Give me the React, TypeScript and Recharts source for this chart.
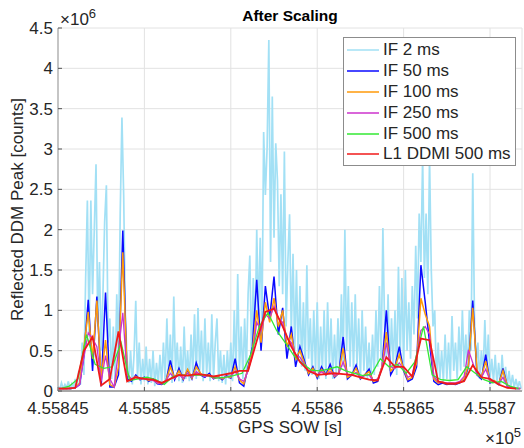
import React from 'react';
import { LineChart, Line, XAxis, YAxis, CartesianGrid, Legend } from 'recharts';

// GPS SOW of the first sample; all values below are in units of 1e6 counts
const T0 = 455845;

// IF 2 ms, one value every 0.1 s
const if2 = [
  0.06, 0.02, 0.1, 0.03, 0.08, 0.04, 0.12, 0.02, 0.09, 0.05,
  0.15, 0.05, 0.25, 0.08, 0.6, 0.2, 1.4, 2.36, 0.7, 2.36,
  1.2, 2.0, 2.81, 0.8, 1.6, 0.5, 1.2, 2.1, 2.55, 0.6,
  0.9, 0.15, 0.8, 0.1, 1.2, 0.4, 2.2, 3.39, 2.43, 0.9,
  0.4, 0.1, 0.5, 0.08, 0.45, 1.12, 0.15, 0.6, 0.08, 0.4,
  0.12, 0.55, 0.08, 0.4, 0.1, 0.5, 0.06, 0.35, 0.1, 0.45,
  0.08, 0.6, 0.12, 0.9, 0.2, 0.7, 0.1, 1.17, 0.25, 0.6,
  0.12, 0.55, 0.1, 0.8, 0.15, 0.5, 0.12, 0.7, 0.2, 0.95,
  0.15, 1.03, 0.25, 0.75, 0.12, 0.9, 0.2, 0.6, 0.12, 0.95,
  0.15, 0.6, 0.9, 0.12, 0.5, 0.1, 0.45, 0.08, 0.5, 0.15,
  0.6, 0.12, 1.0, 0.2, 1.45, 0.25, 0.8, 0.15, 0.9, 0.25,
  1.2, 1.68, 0.4, 1.4, 0.6, 2.0, 0.9, 1.9, 0.7, 3.21,
  2.43, 3.01, 4.35, 1.6, 3.65, 1.9, 3.07, 2.61, 1.3, 2.44,
  1.2, 2.97, 0.8, 1.6, 2.19, 0.7, 1.7, 0.5, 1.5, 0.4,
  1.3, 0.3, 1.1, 0.25, 1.56, 0.4, 0.9, 0.2, 1.0, 0.25,
  1.1, 0.15, 0.8, 0.25, 1.0, 0.15, 1.1, 0.3, 0.9, 0.15,
  0.7, 0.2, 0.9, 0.25, 1.2, 0.3, 2.0, 0.5, 1.3, 0.3,
  1.1, 0.25, 1.2, 0.3, 0.9, 0.15, 1.0, 0.25, 0.8, 0.15,
  0.6, 0.12, 0.7, 0.2, 1.0, 0.3, 1.3, 0.4, 2.02, 0.8,
  0.4, 1.2, 0.25, 0.9, 0.3, 1.0, 0.2, 1.54, 0.4, 1.4,
  0.3, 1.5, 0.5, 1.1, 0.4, 1.3, 0.7, 1.8, 0.9, 2.2,
  1.6, 2.9, 1.4, 2.2, 1.2, 2.9, 1.5, 0.8, 1.0, 0.1,
  0.6, 0.15, 0.5, 0.12, 0.7, 0.15, 0.6, 0.12, 0.93, 0.25,
  0.6, 0.15, 0.8, 0.25, 1.0, 0.3, 0.7, 0.2, 1.0, 0.5,
  2.7, 0.9, 0.3, 0.6, 0.15, 0.5, 0.2, 0.88, 0.25, 0.7,
  0.15, 0.4, 0.12, 0.45, 0.08, 0.35, 0.08, 0.45, 0.1, 0.3,
  0.06, 0.25, 0.05, 0.2, 0.04, 0.15, 0.04, 0.12, 0.03,
];

// IF 50 / 100 / 250 ms, one value every 0.25 s
const if50 = [
  0.03, 0.03, 0.03, 0.03, 0.04, 0.08, 0.45, 1.13, 0.25, 1.17,
  0.06, 1.22, 0.05, 0.05, 0.2, 1.99, 0.15, 0.12, 0.2, 0.14,
  0.17, 0.12, 0.15, 0.09, 0.08, 0.12, 0.38, 0.14, 0.28, 0.14,
  0.26, 0.15, 0.35, 0.2, 0.17, 0.22, 0.15, 0.18, 0.14, 0.19,
  0.16, 0.4, 0.1, 0.06, 0.3, 0.55, 1.38, 0.5, 1.3, 0.9,
  1.42, 0.7, 1.03, 0.4, 0.8, 0.3, 0.55, 0.38, 0.2, 0.3,
  0.16, 0.3, 0.2, 0.33, 0.17, 0.22, 0.67, 0.15, 0.2, 0.32,
  0.15, 0.2, 0.27, 0.1, 0.12, 0.3, 1.0, 0.2, 0.3, 0.55,
  0.25, 0.12, 0.15, 0.3, 1.56, 1.1, 0.6, 0.12, 0.08, 0.1,
  0.08, 0.09, 0.08, 0.1, 0.14, 0.3, 1.12, 0.2, 0.15, 0.45,
  0.1, 0.12, 0.08, 0.28, 0.06, 0.04, 0.03, 0.03,
];

const if100 = [
  0.03, 0.03, 0.03, 0.03, 0.04, 0.1, 0.55, 0.98, 0.4, 1.12,
  0.15, 0.63, 0.08, 0.05, 0.3, 1.72, 0.22, 0.14, 0.18, 0.15,
  0.16, 0.13, 0.14, 0.1, 0.09, 0.13, 0.3, 0.16, 0.25, 0.15,
  0.27, 0.16, 0.3, 0.22, 0.18, 0.2, 0.16, 0.18, 0.15, 0.18,
  0.17, 0.3, 0.14, 0.09, 0.28, 0.5, 1.0, 0.6, 1.1, 0.85,
  1.15, 0.8, 1.0, 0.55, 0.7, 0.4, 0.5, 0.35, 0.22, 0.28,
  0.18, 0.27, 0.2, 0.28, 0.18, 0.22, 0.53, 0.17, 0.2, 0.28,
  0.16, 0.2, 0.24, 0.12, 0.14, 0.3, 0.73, 0.25, 0.3, 0.45,
  0.27, 0.14, 0.17, 0.35, 1.15, 0.95, 0.8, 0.15, 0.1, 0.11,
  0.09, 0.1, 0.09, 0.11, 0.15, 0.32, 1.03, 0.25, 0.17, 0.37,
  0.12, 0.13, 0.09, 0.25, 0.07, 0.04, 0.03, 0.03,
];

const if250 = [
  0.03, 0.03, 0.03, 0.03, 0.04, 0.08, 0.42, 0.72, 0.65, 0.55,
  0.12, 0.44, 0.15, 0.05, 0.5, 0.97, 0.2, 0.15, 0.17, 0.15,
  0.15, 0.14, 0.13, 0.1, 0.09, 0.13, 0.22, 0.16, 0.2, 0.16,
  0.22, 0.17, 0.24, 0.2, 0.18, 0.19, 0.16, 0.17, 0.16, 0.18,
  0.18, 0.25, 0.15, 0.12, 0.25, 0.45, 0.85, 0.75, 0.95, 0.9,
  1.05, 0.9, 0.85, 0.65, 0.6, 0.45, 0.42, 0.33, 0.25, 0.25,
  0.2, 0.24, 0.2, 0.24, 0.19, 0.22, 0.36, 0.2, 0.19, 0.23,
  0.17, 0.19, 0.2, 0.13, 0.15, 0.28, 0.6, 0.3, 0.28, 0.35,
  0.27, 0.17, 0.2, 0.45, 0.75, 0.8, 0.7, 0.18, 0.11, 0.11,
  0.1, 0.1, 0.1, 0.12, 0.18, 0.51, 0.35, 0.2, 0.17, 0.27,
  0.13, 0.12, 0.09, 0.17, 0.06, 0.04, 0.03, 0.03,
];

// IF 500 ms, every 0.5 s starting 0.15 s after T0
const if500 = [
  0.03, 0.06, 0.15, 0.7, 0.33, 0.28, 0.3, 0.6, 0.13, 0.15,
  0.17, 0.14, 0.08, 0.18, 0.2, 0.19, 0.2, 0.19, 0.16, 0.17,
  0.19, 0.22, 0.45, 0.8, 0.97, 0.75, 0.6, 0.44, 0.34, 0.26,
  0.25, 0.27, 0.3, 0.25, 0.22, 0.19, 0.21, 0.4, 0.3, 0.33,
  0.22, 0.36, 0.8, 0.2, 0.14, 0.13, 0.14, 0.3, 0.22, 0.14,
  0.1, 0.12, 0.06, 0.03,
];

// L1 DDMI 500 ms, every 0.5 s
const ddmi = [
  0.03, 0.03, 0.04, 0.5, 0.67, 0.07, 0.15, 0.74, 0.12, 0.17,
  0.15, 0.14, 0.1, 0.15, 0.2, 0.19, 0.21, 0.2, 0.18, 0.2,
  0.22, 0.25, 0.25, 0.62, 0.98, 1.02, 0.8, 0.55, 0.36, 0.25,
  0.2, 0.21, 0.22, 0.21, 0.2, 0.17, 0.14, 0.13, 0.42, 0.3,
  0.3, 0.18, 0.65, 0.63, 0.12, 0.09, 0.09, 0.12, 0.32, 0.17,
  0.15, 0.08, 0.04, 0.03,
];

const xTicks = [455845, 455850, 455855, 455860, 455865, 455870];
const yTicks = [0, 0.5, 1, 1.5, 2, 2.5, 3, 3.5, 4, 4.5];

const FONT = '"Liberation Sans", Arial, Helvetica, sans-serif';
const INK = '#262626';

function toPoints(values: number[], start: number, step: number) {
  return values.map((v, i) => ({ t: Math.round((start + i * step) * 1000) / 1000, v }));
}

const series = [
  { name: 'IF 2 ms', data: toPoints(if2, T0, 0.1), color: '#a2e0f5', width: 1.7 },
  { name: 'IF 50 ms', data: toPoints(if50, T0, 0.25), color: '#0a0aff', width: 1.5 },
  { name: 'IF 100 ms', data: toPoints(if100, T0, 0.25), color: '#ff9a0a', width: 1.5 },
  { name: 'IF 250 ms', data: toPoints(if250, T0, 0.25), color: '#cc33cc', width: 1.3 },
  { name: 'IF 500 ms', data: toPoints(if500, T0 + 0.15, 0.5), color: '#33e833', width: 1.3 },
  { name: 'L1 DDMI 500 ms', data: toPoints(ddmi, T0, 0.5), color: '#f01a1a', width: 1.8 },
];

function LegendBox() {
  return (
    <div
      style={{
        width: 171,
        height: 125,
        paddingTop: 2,
        background: '#fff',
        border: '1px solid #8c8c8c',
        fontFamily: FONT,
        fontSize: 17,
        color: INK,
      }}
    >
      {series.map((s) => (
        <div key={s.name} style={{ height: 20.8, display: 'flex', alignItems: 'center' }}>
          <svg width={32} height={4} style={{ marginLeft: 3, marginRight: 4, display: 'block' }}>
            <line x1={0} y1={2} x2={32} y2={2} stroke={s.color} strokeWidth={1.5} />
          </svg>
          <span style={{ lineHeight: '20px', whiteSpace: 'nowrap' }}>{s.name}</span>
        </div>
      ))}
    </div>
  );
}

const tickStyle = { fill: INK, fontSize: 17, fontFamily: FONT };

export default function App() {
  return (
    <div style={{ position: 'relative', width: 524, height: 448, background: '#fff' }}>
      <style>{'body{margin:0;}'}</style>
      <LineChart width={524} height={448} margin={{ top: 28, right: 2, bottom: 0, left: 0 }}>
        <CartesianGrid stroke="#e2e2e2" strokeWidth={1} />
        <XAxis
          dataKey="t"
          type="number"
          domain={[455845, 455871.85]}
          allowDataOverflow
          ticks={xTicks}
          interval={0}
          height={57}
          tick={tickStyle}
          tickFormatter={(v: number) => String(+(v / 1e5).toFixed(5))}
          tickSize={-4}
          tickMargin={15}
          tickLine={{ stroke: '#555' }}
          axisLine={{ stroke: '#a8a8a8', strokeWidth: 2 }}
          label={() => (
            <text x={290} y={433} textAnchor="middle" fill={INK} fontSize={17} fontFamily={FONT}>
              GPS SOW [s]
            </text>
          )}
        />
        <YAxis
          type="number"
          domain={[0, 4.5]}
          allowDataOverflow
          ticks={yTicks}
          interval={0}
          width={58}
          tick={tickStyle}
          tickSize={-4}
          tickMargin={9}
          tickLine={{ stroke: '#555' }}
          axisLine={{ stroke: '#999' }}
          label={() => (
            <text
              x={23}
              y={209.5}
              transform="rotate(-90 23 209.5)"
              textAnchor="middle"
              fill={INK}
              fontSize={17}
              fontFamily={FONT}
            >
              Reflected DDM Peak [counts]
            </text>
          )}
        />
        {series.map((s) => (
          <Line
            key={s.name}
            name={s.name}
            data={s.data}
            dataKey="v"
            type="linear"
            stroke={s.color}
            strokeWidth={s.width}
            strokeLinejoin="miter"
            dot={false}
            activeDot={false}
            isAnimationActive={false}
          />
        ))}
        <Legend
          layout="vertical"
          align="center"
          verticalAlign="middle"
          wrapperStyle={{ position: 'absolute', left: 343, top: 37, width: 173, height: 129 }}
          content={() => <LegendBox />}
        />
      </LineChart>
      <svg
        width={524}
        height={448}
        style={{ position: 'absolute', left: 0, top: 0, pointerEvents: 'none' }}
      >
        <text x={290} y={21} textAnchor="middle" fontWeight="bold" fontSize={15.5} fontFamily={FONT} fill="#000">
          After Scaling
        </text>
        <text x={60} y={25} fontSize={17} fontFamily={FONT} fill={INK}>
          ×10
          <tspan dy={-7.5} fontSize={13}>6</tspan>
        </text>
        <text x={485} y={444} fontSize={17} fontFamily={FONT} fill={INK}>
          ×10
          <tspan dy={-7.5} fontSize={13}>5</tspan>
        </text>
      </svg>
    </div>
  );
}
